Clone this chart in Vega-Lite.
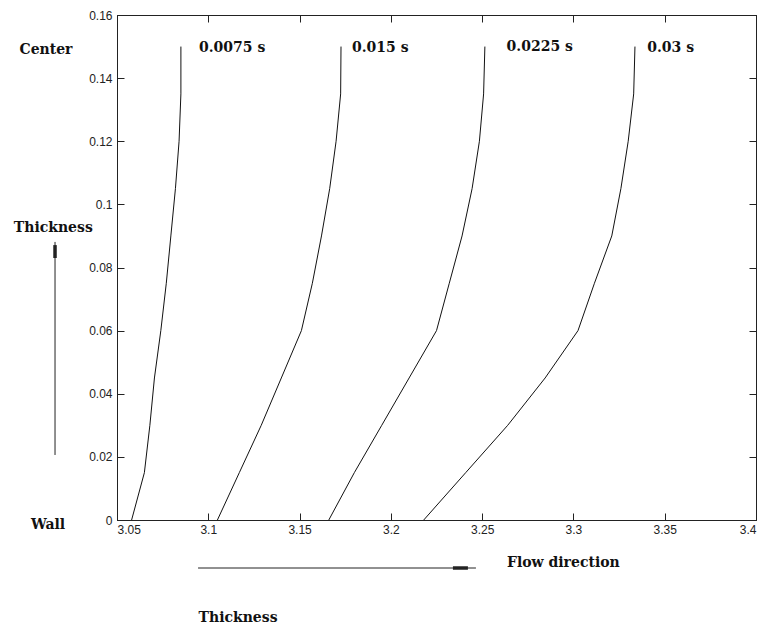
{
  "$schema": "https://vega.github.io/schema/vega-lite/v6.json",
  "width": 639,
  "height": 505,
  "autosize": "none",
  "padding": {"left": 117, "top": 15, "right": 10, "bottom": 109},
  "background": "white",
  "config": {
    "view": {"stroke": "#222", "strokeWidth": 1},
    "axis": {"labelFont": "Liberation Sans", "labelFontSize": 12, "labelColor": "#222", "domainColor": "#222", "tickColor": "#222", "grid": false}
  },
  "datasets": {
    "curves": [
      {"time": "0.0075 s", "thickness": 0, "position": 3.058},
      {"time": "0.0075 s", "thickness": 0.015, "position": 3.065},
      {"time": "0.0075 s", "thickness": 0.03, "position": 3.068},
      {"time": "0.0075 s", "thickness": 0.045, "position": 3.0705},
      {"time": "0.0075 s", "thickness": 0.06, "position": 3.074},
      {"time": "0.0075 s", "thickness": 0.075, "position": 3.077},
      {"time": "0.0075 s", "thickness": 0.09, "position": 3.0795},
      {"time": "0.0075 s", "thickness": 0.105, "position": 3.082},
      {"time": "0.0075 s", "thickness": 0.12, "position": 3.084},
      {"time": "0.0075 s", "thickness": 0.135, "position": 3.085},
      {"time": "0.0075 s", "thickness": 0.15, "position": 3.085},
      {"time": "0.015 s", "thickness": 0, "position": 3.105},
      {"time": "0.015 s", "thickness": 0.015, "position": 3.117},
      {"time": "0.015 s", "thickness": 0.03, "position": 3.129},
      {"time": "0.015 s", "thickness": 0.045, "position": 3.140},
      {"time": "0.015 s", "thickness": 0.06, "position": 3.151},
      {"time": "0.015 s", "thickness": 0.075, "position": 3.157},
      {"time": "0.015 s", "thickness": 0.09, "position": 3.162},
      {"time": "0.015 s", "thickness": 0.105, "position": 3.1665},
      {"time": "0.015 s", "thickness": 0.12, "position": 3.170},
      {"time": "0.015 s", "thickness": 0.135, "position": 3.1725},
      {"time": "0.015 s", "thickness": 0.15, "position": 3.1727},
      {"time": "0.0225 s", "thickness": 0, "position": 3.166},
      {"time": "0.0225 s", "thickness": 0.015, "position": 3.180},
      {"time": "0.0225 s", "thickness": 0.03, "position": 3.195},
      {"time": "0.0225 s", "thickness": 0.045, "position": 3.210},
      {"time": "0.0225 s", "thickness": 0.06, "position": 3.225},
      {"time": "0.0225 s", "thickness": 0.075, "position": 3.232},
      {"time": "0.0225 s", "thickness": 0.09, "position": 3.239},
      {"time": "0.0225 s", "thickness": 0.105, "position": 3.2445},
      {"time": "0.0225 s", "thickness": 0.12, "position": 3.2485},
      {"time": "0.0225 s", "thickness": 0.135, "position": 3.2508},
      {"time": "0.0225 s", "thickness": 0.15, "position": 3.2515},
      {"time": "0.03 s", "thickness": 0, "position": 3.218},
      {"time": "0.03 s", "thickness": 0.015, "position": 3.241},
      {"time": "0.03 s", "thickness": 0.03, "position": 3.264},
      {"time": "0.03 s", "thickness": 0.045, "position": 3.2845},
      {"time": "0.03 s", "thickness": 0.06, "position": 3.3025},
      {"time": "0.03 s", "thickness": 0.075, "position": 3.3115},
      {"time": "0.03 s", "thickness": 0.09, "position": 3.321},
      {"time": "0.03 s", "thickness": 0.105, "position": 3.326},
      {"time": "0.03 s", "thickness": 0.12, "position": 3.330},
      {"time": "0.03 s", "thickness": 0.135, "position": 3.333},
      {"time": "0.03 s", "thickness": 0.15, "position": 3.3337}
    ],
    "curveLabels": [
      {"label": "0.0075 s", "position": 3.0949, "thickness": 0.1495},
      {"label": "0.015 s", "position": 3.1787, "thickness": 0.1495},
      {"label": "0.0225 s", "position": 3.2634, "thickness": 0.1498},
      {"label": "0.03 s", "position": 3.3404, "thickness": 0.1495}
    ],
    "sideLabels": [
      {"label": "Center", "position": 3.0111, "thickness": 0.1489},
      {"label": "Thickness", "position": 3.0151, "thickness": 0.0925},
      {"label": "Wall", "position": 3.0122, "thickness": -0.0016},
      {"label": "Thickness", "position": 3.1163, "thickness": -0.0311}
    ],
    "flowLabel": [
      {"label": "Flow direction", "position": 3.2636, "thickness": -0.0136}
    ],
    "arrows": [
      {"part": "v-shaft", "x1": 3.01605, "x2": 3.01605, "y1": 0.0206, "y2": 0.0881, "w": "thin"},
      {"part": "v-head", "x1": 3.01605, "x2": 3.01605, "y1": 0.0830, "y2": 0.0871, "w": "thick"},
      {"part": "h-shaft", "x1": 3.0944, "x2": 3.2466, "y1": -0.01521, "y2": -0.01521, "w": "thin"},
      {"part": "h-head", "x1": 3.2340, "x2": 3.2422, "y1": -0.01521, "y2": -0.01521, "w": "thick"}
    ]
  },
  "resolve": {"axis": {"x": "independent", "y": "independent"}},
  "layer": [
    {
      "data": {"name": "curves"},
      "mark": {"type": "line", "color": "#111", "strokeWidth": 1},
      "encoding": {
        "x": {"field": "position", "type": "quantitative", "scale": {"domain": [3.05, 3.4], "nice": false, "zero": false},
              "axis": {"orient": "bottom", "values": [3.05, 3.1, 3.15, 3.2, 3.25, 3.3, 3.35, 3.4], "format": "~g", "tickSize": -7, "labelPadding": 11, "title": null}},
        "y": {"field": "thickness", "type": "quantitative", "scale": {"domain": [0, 0.16], "nice": false},
              "axis": {"orient": "left", "values": [0, 0.02, 0.04, 0.06, 0.08, 0.1, 0.12, 0.14, 0.16], "format": "~g", "tickSize": -7, "labelPadding": 12, "title": null}},
        "detail": {"field": "time"},
        "order": {"field": "thickness", "type": "quantitative"}
      }
    },
    {
      "data": {"name": "curveLabels"},
      "mark": {"type": "text", "align": "left", "baseline": "middle", "font": "DejaVu Serif", "fontWeight": "bold", "fontSize": 14, "color": "#111"},
      "encoding": {
        "x": {"field": "position", "type": "quantitative",
              "axis": {"orient": "top", "values": [3.05, 3.1, 3.15, 3.2, 3.25, 3.3, 3.35, 3.4], "labels": false, "tickSize": -7, "title": null}},
        "y": {"field": "thickness", "type": "quantitative",
              "axis": {"orient": "right", "values": [0, 0.02, 0.04, 0.06, 0.08, 0.1, 0.12, 0.14, 0.16], "labels": false, "tickSize": -7, "title": null}},
        "text": {"field": "label"}
      }
    },
    {
      "data": {"name": "sideLabels"},
      "mark": {"type": "text", "align": "center", "baseline": "middle", "font": "DejaVu Serif", "fontWeight": "bold", "fontSize": 14, "color": "#111"},
      "encoding": {
        "x": {"field": "position", "type": "quantitative", "axis": null},
        "y": {"field": "thickness", "type": "quantitative", "axis": null},
        "text": {"field": "label"}
      }
    },
    {
      "data": {"name": "flowLabel"},
      "mark": {"type": "text", "align": "left", "baseline": "middle", "font": "DejaVu Serif", "fontWeight": "bold", "fontSize": 14, "color": "#111"},
      "encoding": {
        "x": {"field": "position", "type": "quantitative", "axis": null},
        "y": {"field": "thickness", "type": "quantitative", "axis": null},
        "text": {"field": "label"}
      }
    },
    {
      "data": {"name": "arrows"},
      "mark": {"type": "rule", "color": "#222"},
      "encoding": {
        "x": {"field": "x1", "type": "quantitative", "axis": null},
        "x2": {"field": "x2"},
        "y": {"field": "y1", "type": "quantitative", "axis": null},
        "y2": {"field": "y2"},
        "strokeWidth": {"field": "w", "type": "nominal", "scale": {"domain": ["thin", "thick"], "range": [1, 3.5]}, "legend": null}
      }
    }
  ]
}
